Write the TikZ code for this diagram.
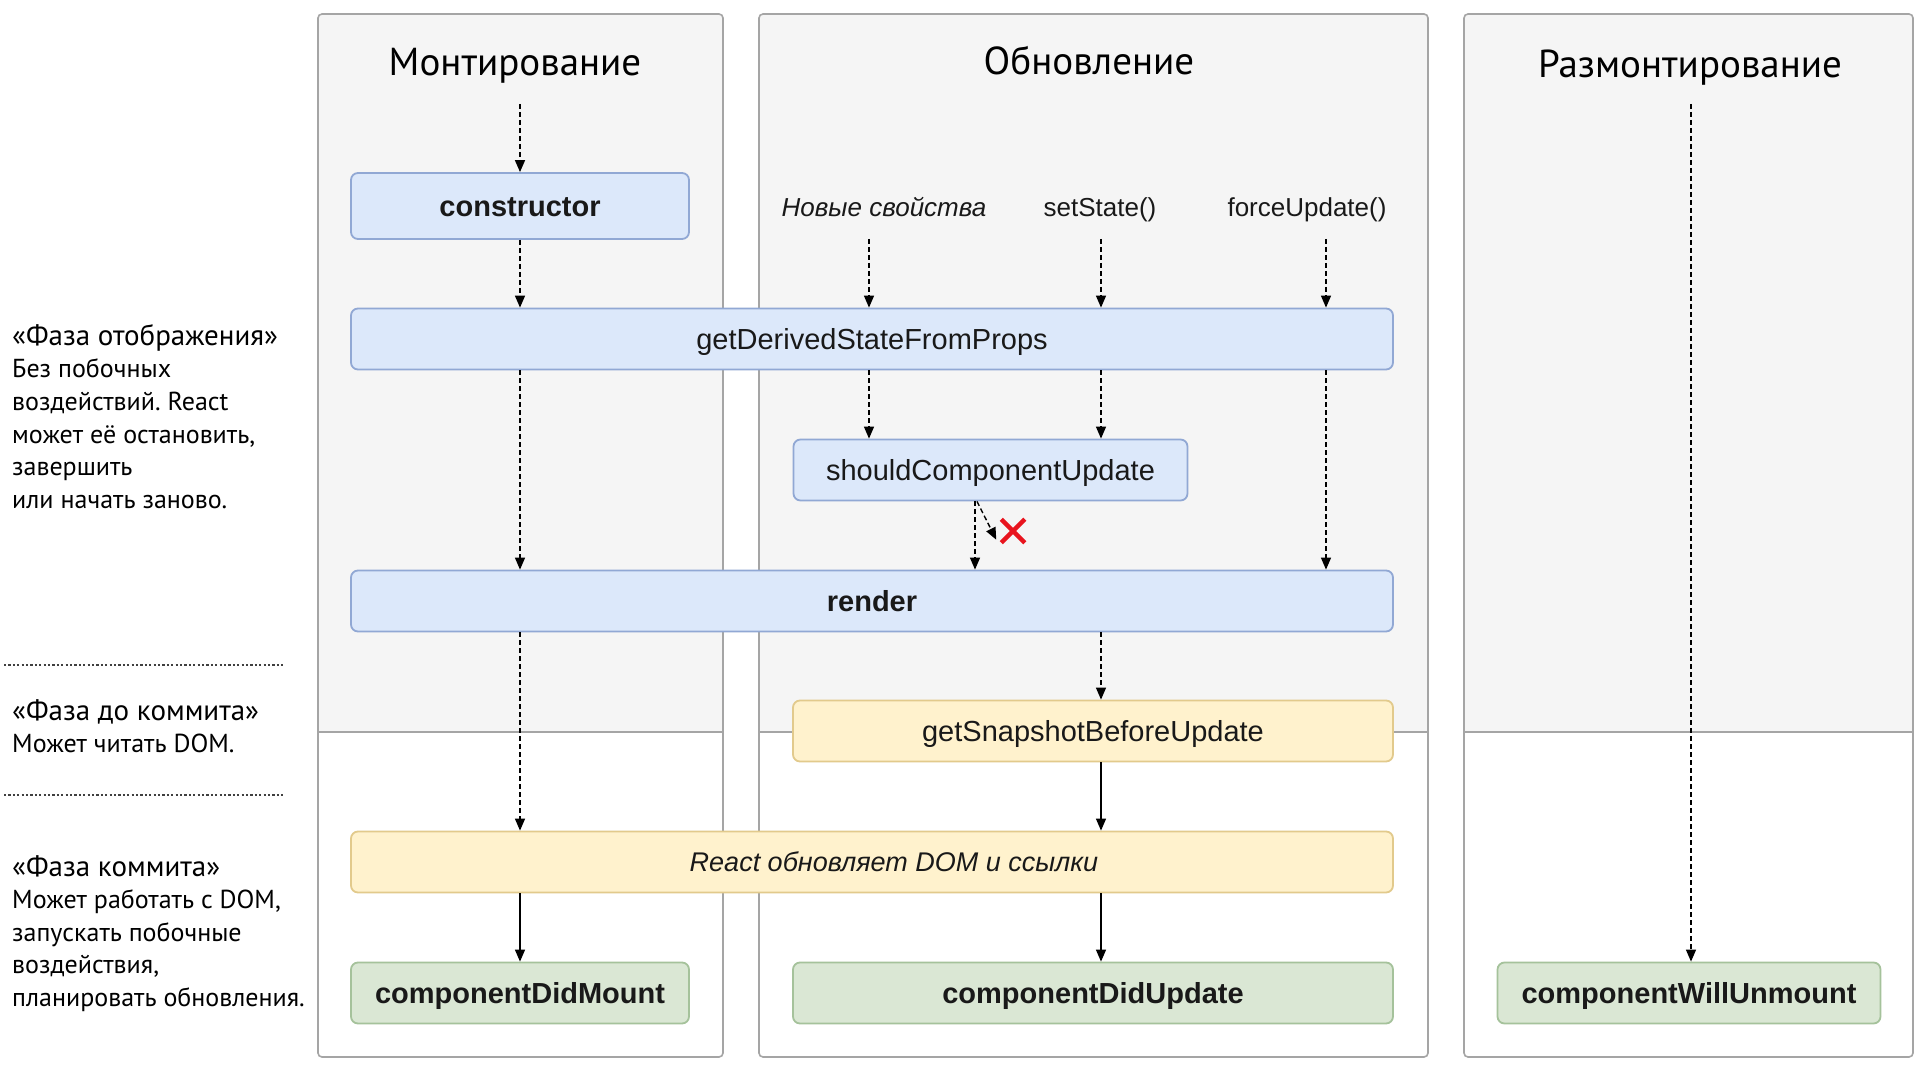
\documentclass[tikz,border=0pt]{standalone}
\usepackage{fontspec}
\setmainfont{PT Sans}
\newfontfamily\boxfont{Liberation Sans}
\usetikzlibrary{arrows.meta,shapes.misc}
\definecolor{panelgray}{RGB}{245,245,245}
\definecolor{panelline}{RGB}{165,165,165}
\definecolor{blueface}{RGB}{220,232,250}
\definecolor{blueedge}{RGB}{145,168,212}
\definecolor{yellowface}{RGB}{255,242,205}
\definecolor{yellowedge}{RGB}{226,202,140}
\definecolor{greenface}{RGB}{218,231,212}
\definecolor{greenedge}{RGB}{165,194,155}
\definecolor{boxtext}{RGB}{25,25,25}
\definecolor{crossred}{RGB}{232,20,30}
\newcommand\phasehead{\fontsize{29}{33}\selectfont}
\frenchspacing

\begin{document}
\begin{tikzpicture}[x=1pt,y=-1pt,
	panel/.style={draw=panelline, line width=1.6pt, rounded corners=4pt},
	lifebox/.style={rounded corners=7pt, line width=1.8pt, minimum height=61pt, inner sep=0pt, text height=21pt, text depth=0pt, text=boxtext, font=\boxfont\fontsize{29}{34}\selectfont},
	bluebox/.style={lifebox, draw=blueedge, fill=blueface},
	yellowbox/.style={lifebox, draw=yellowedge, fill=yellowface},
	greenbox/.style={lifebox, draw=greenedge, fill=greenface},
	boldtxt/.style={font=\boxfont\bfseries\fontsize{29}{34}\selectfont},
	calltxt/.style={inner sep=0pt, text depth=0pt, text=boxtext, font=\boxfont\fontsize{26}{30}\selectfont},
	phasetxt/.style={align=left, anchor=north west, inner sep=0pt, font=\fontsize{26}{32.6}\selectfont},
	titletxt/.style={inner sep=0pt, anchor=base, font=\fontsize{39}{45}\selectfont},
	sepline/.style={black!75, line width=2.2pt, dash pattern=on 2.2pt off 2.2pt},
	dasharrow/.style={line width=1.4pt, dash pattern=on 5pt off 3pt, -{Triangle[length=12pt,width=10pt]}},
	fullarrow/.style={line width=1.4pt, -{Triangle[length=12pt,width=10pt]}},
	]
	\useasboundingbox (0,0) rectangle (1920,1067);
	\fill[white] (0,0) rectangle (1920,1067);

	\foreach \xa/\xb in {318/723, 759/1428, 1464/1913} {
		\fill[white, rounded corners=4pt] (\xa,14) rectangle (\xb,1057);
		\begin{scope}
			\clip (\xa,0) rectangle (\xb,732);
			\fill[panelgray, rounded corners=4pt] (\xa,14) rectangle (\xb,1057);
		\end{scope}
		\draw[panelline, line width=1.2pt] (\xa,732) -- (\xb,732);
		\draw[panel] (\xa,14) rectangle (\xb,1057);
	}

	\node (mounttitle) [titletxt] at (515,76) {Монтирование};
	\node (updatetitle) [titletxt] at (1089,75) {Обновление};
	\node (unmounttitle) [titletxt] at (1690,78) {Размонтирование};

	\node (ctor) [bluebox, boldtxt, minimum width=338pt, minimum height=66pt] at (520,206) {constructor};
	\node (gdsfp) [bluebox, minimum width=1042pt] at (872,339) {getDerivedStateFromProps};
	\node (scu) [bluebox, minimum width=394pt] at (990.5,470) {shouldComponentUpdate};
	\node (render) [bluebox, boldtxt, minimum width=1042pt] at (872,601) {render};
	\node (gsbu) [yellowbox, minimum width=600pt] at (1093,731) {getSnapshotBeforeUpdate};
	\node (domupd) [yellowbox, minimum width=1042pt, label={[name=domtxt, calltxt, font=\boxfont\itshape\fontsize{27}{31}\selectfont, xshift=22pt]center:React обновляет DOM и ссылки}] at (872,862) {};
	\node (cdm) [greenbox, boldtxt, minimum width=338pt] at (520,993) {componentDidMount};
	\node (cdu) [greenbox, boldtxt, minimum width=600pt] at (1093,993) {componentDidUpdate};
	\node (cwu) [greenbox, boldtxt, minimum width=383pt] at (1689,993) {componentWillUnmount};

	\node (newprops) [calltxt, font=\boxfont\itshape\fontsize{26}{30}\selectfont] at (884,207) {Новые свойства};
	\node (setst) [calltxt] at (1100,207) {setState()};
	\node (forceup) [calltxt] at (1307,207) {forceUpdate()};
	\node (nogo) [cross out, draw=crossred, line width=4.5pt, minimum size=19pt, inner sep=0pt] at (1013,531) {};

	\coordinate (mstart) at (520,104);
	\coordinate (propsx) at (869,239);
	\coordinate (statex) at (1101,239);
	\coordinate (forcex) at (1326,239);
	\coordinate (skipx) at (975,0);
	\coordinate (ustart) at (1691,104);

	\draw[dasharrow] (mstart) -- (ctor.north);
	\draw[dasharrow] (ctor.south) -- (ctor.south |- gdsfp.north);
	\draw[dasharrow] (ctor.south |- gdsfp.south) -- (ctor.south |- render.north);
	\draw[dasharrow] (ctor.south |- render.south) -- (ctor.south |- domupd.north);
	\draw[fullarrow] (ctor.south |- domupd.south) -- (cdm.north);

	\draw[dasharrow] (propsx) -- (propsx |- gdsfp.north);
	\draw[dasharrow] (propsx |- gdsfp.south) -- (propsx |- scu.north);
	\draw[dasharrow] (statex) -- (statex |- gdsfp.north);
	\draw[dasharrow] (statex |- gdsfp.south) -- (statex |- scu.north);
	\draw[dasharrow] (forcex) -- (forcex |- gdsfp.north);
	\draw[dasharrow] (forcex |- gdsfp.south) -- (forcex |- render.north);
	\draw[dasharrow] (skipx |- scu.south) -- (skipx |- render.north);
	\draw[dasharrow] ([xshift=2pt]skipx |- scu.south) -- ([shift={(-5pt,3pt)}]nogo.south west);
	\draw[dasharrow] (statex |- render.south) -- (statex |- gsbu.north);
	\draw[fullarrow] (statex |- gsbu.south) -- (statex |- domupd.north);
	\draw[fullarrow] (statex |- domupd.south) -- (statex |- cdu.north);
	\draw[dasharrow] (ustart) -- (ustart |- cwu.north);

	\node (phrender) [phasetxt] at (12,324) {{\phasehead «Фаза отображения»}\\Без побочных\\воздействий. React\\может её остановить,\\завершить\\или начать заново.};
	\draw[sepline] (4,665) -- (283,665);
	\node (phprecommit) [phasetxt] at (12,699) {{\phasehead «Фаза до коммита»}\\Может читать DOM.};
	\draw[sepline] (4,795) -- (283,795);
	\node (phcommit) [phasetxt] at (12,855) {{\phasehead «Фаза коммита»}\\Может работать с DOM,\\запускать побочные\\воздействия,\\планировать обновления.};
\end{tikzpicture}
\end{document}
